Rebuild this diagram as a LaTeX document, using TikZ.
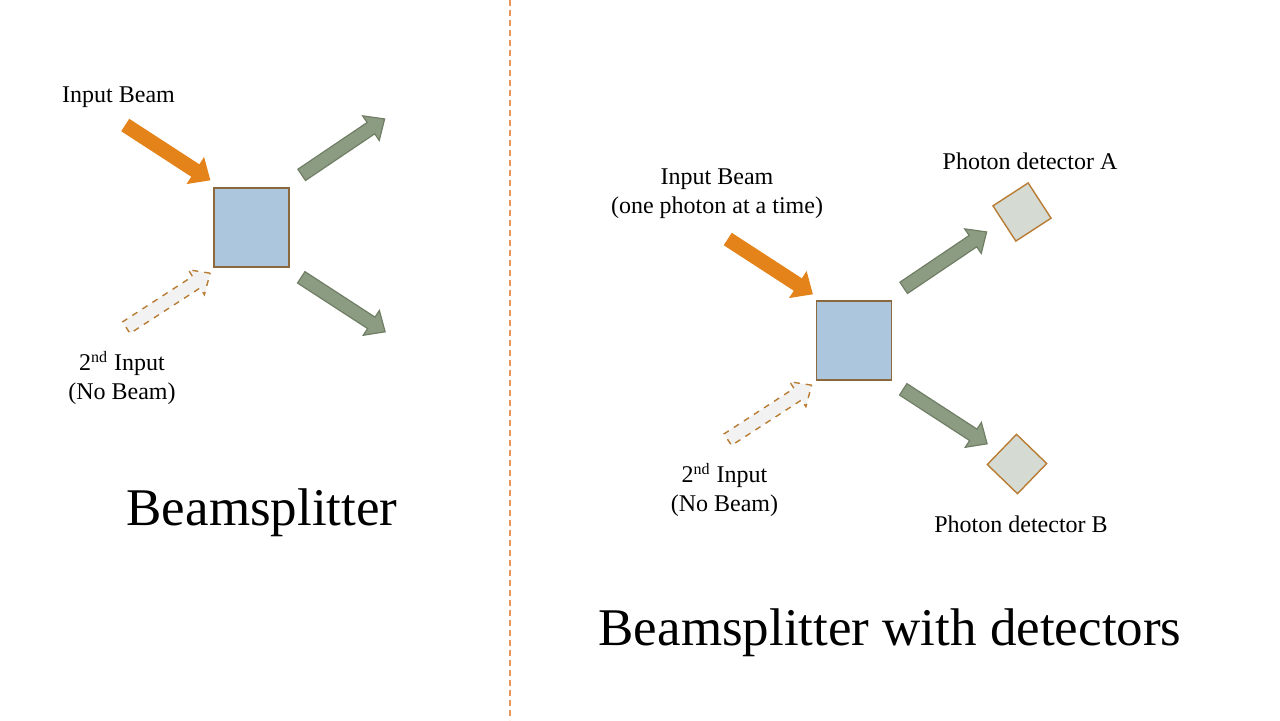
\documentclass[tikz,border=0pt]{standalone}
\usepackage{fontspec}
\setmainfont{Liberation Serif}
\usepackage{tikz}
\usetikzlibrary{shapes.arrows, calc}
\definecolor{beamorange}{RGB}{228, 131, 25}
\definecolor{outgreen}{RGB}{140, 156, 130}
\definecolor{outgreenline}{RGB}{112, 126, 102}
\definecolor{splitblue}{RGB}{172, 199, 221}
\definecolor{edgebrown}{RGB}{140, 105, 60}
\definecolor{detgrey}{RGB}{213, 219, 211}
\definecolor{detbrown}{RGB}{184, 124, 52}
\definecolor{dividerorange}{RGB}{232, 150, 90}

\tikzset{
    beam/.style={single arrow, inner xsep=0pt, inner ysep=3.1pt, minimum height=50pt,
        minimum width=14pt, single arrow head extend=4pt, single arrow tip angle=84,
        line width=0.6pt},
    inbeam/.style={beam, fill=beamorange, draw=beamorange},
    outbeam/.style={beam, fill=outgreen, draw=outgreenline},
    nobeam/.style={beam, fill=black!5, draw=detbrown, dashed, line width=0.7pt},
    splitter/.style={draw=edgebrown, fill=splitblue, line width=0.6pt, inner sep=0pt,
        minimum width=37.5pt, minimum height=39.5pt},
    detector/.style={draw=detbrown, fill=detgrey, line width=0.7pt, inner sep=0pt,
        minimum size=21pt},
    label/.style={align=center, font=\fontsize{12}{14.5}\selectfont},
    heading/.style={font=\fontsize{26.5}{30}\selectfont}
}

\begin{document}
\begin{tikzpicture}[x=0.5pt, y=-0.5pt]
    \useasboundingbox (0,0) rectangle (1280,720);
    \draw[dividerorange, line width=0.6pt, dash pattern=on 3pt off 2pt] (510,0) -- (510,720);

    % plain beamsplitter
    \node[splitter] (bs1) at (251.5,227.5) {};
    \node[inbeam, rotate=-33] (in1) at ($(bs1)+(-87,-77)$) {};
    \node[nobeam, rotate=33] (no1) at ($(bs1)+(-86.5,75)$) {};
    \node[outbeam, rotate=34] (up1) at ($(bs1)+(88.5,-78.5)$) {};
    \node[outbeam, rotate=-33] (dn1) at ($(bs1)+(88.5,75)$) {};
    \node[label] (inlab1) at (118.5,97) {Input Beam};
    \node[label] (nolab1) at (122,378) {2\textsuperscript{nd} Input\\(No Beam)};
    \node[heading] (title1) at (262,513) {Beamsplitter};

    % beamsplitter with detectors
    \node[splitter] (bs2) at (854,340.5) {};
    \node[inbeam, rotate=-33] (in2) at ($(bs2)+(-87,-76)$) {};
    \node[nobeam, rotate=33] (no2) at ($(bs2)+(-87.5,74)$) {};
    \node[outbeam, rotate=34] (up2) at ($(bs2)+(88,-78.5)$) {};
    \node[outbeam, rotate=-33] (dn2) at ($(bs2)+(88,74)$) {};
    \node[detector, rotate=33] (detA) at (1022,212) {};
    \node[detector, rotate=46] (detB) at (1017,464) {};
    \node[label] (inlab2) at (717,194) {Input Beam\\(one photon at a time)};
    \node[label] (nolab2) at (724.5,490) {2\textsuperscript{nd} Input\\(No Beam)};
    \node[label] (labA) at (1030,161) {Photon detector A};
    \node[label] (labB) at (1021,524) {Photon detector B};
    \node[heading] (title2) at (890,633) {Beamsplitter with detectors};
\end{tikzpicture}
\end{document}
